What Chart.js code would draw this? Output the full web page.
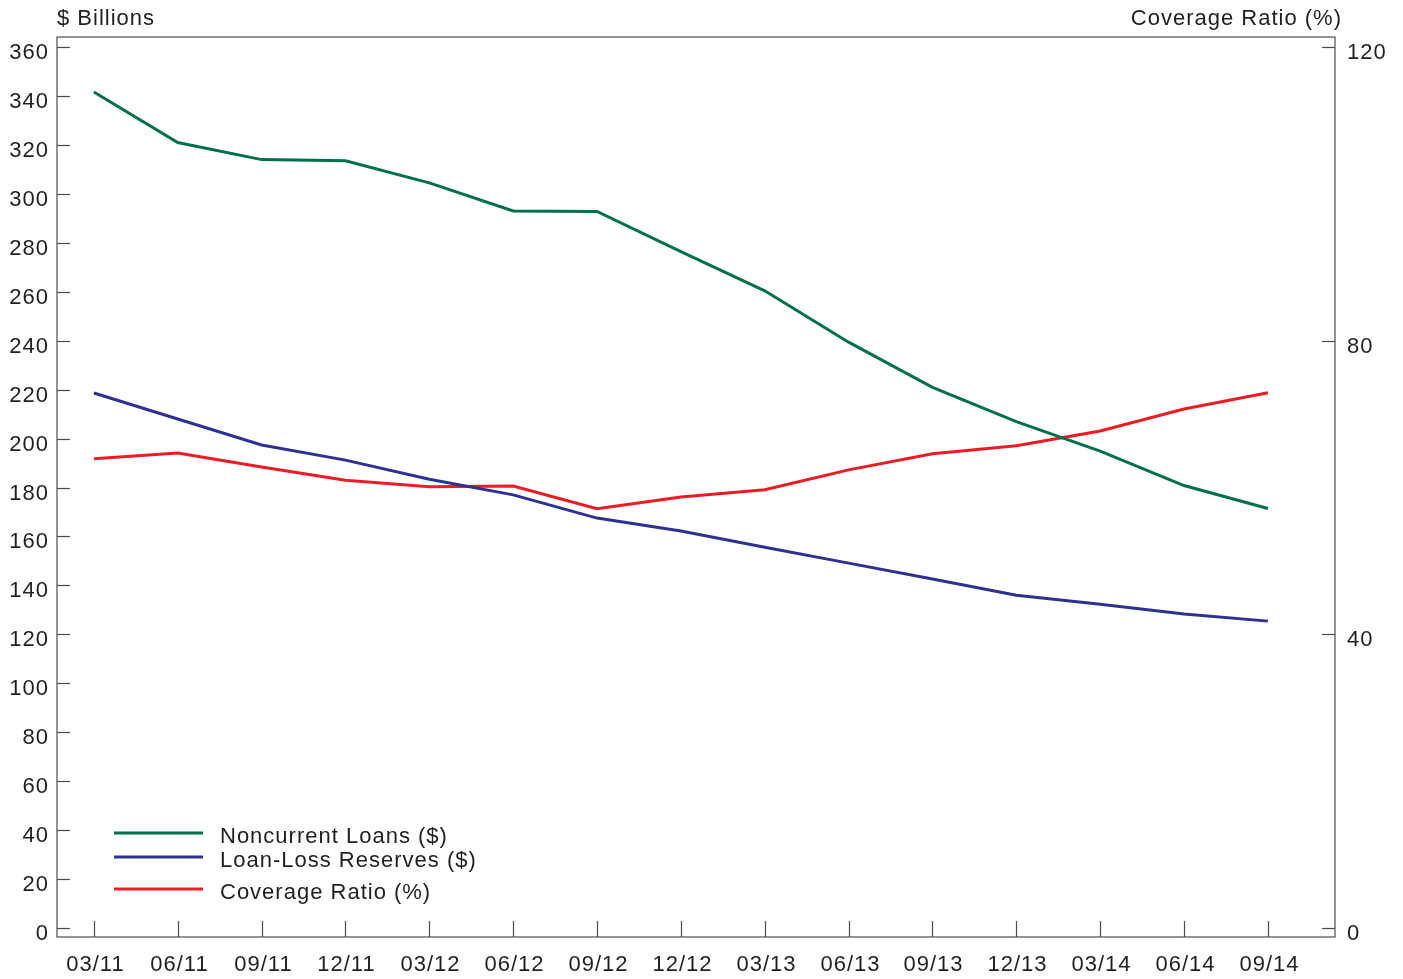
<!DOCTYPE html>
<html>
<head>
<meta charset="utf-8">
<script src="https://cdn.jsdelivr.net/npm/chart.js@4.4.1/dist/chart.umd.min.js"></script>
<style>
  body { margin: 0; background: #fff; }
  #wrap { width: 1403px; height: 979px; }
</style>
</head>
<body>
<div id="wrap"><canvas id="chart1" width="1403" height="979"></canvas></div>
<script>
"use strict";

var categories = ['03/11', '06/11', '09/11', '12/11', '03/12', '06/12', '09/12', '12/12',
                  '03/13', '06/13', '09/13', '12/13', '03/14', '06/14', '09/14'];
var noncurrentLoans = [341.6, 321, 314, 313.5, 304.5, 293, 292.8, 276.4, 260.4, 239.4, 220.9, 206.9, 194.9, 180.8, 171.4];
var lossReserves = [218.6, 208, 197.4, 191.2, 183.4, 177, 167.5, 162.2, 155.6, 149.1, 142.6, 136, 132.3, 128.3, 125.4];
var coverageRatio = [63.9, 64.7, 62.8, 61, 60.1, 60.2, 57.1, 58.7, 59.7, 62.4, 64.6, 65.7, 67.7, 70.7, 72.9];
var leftTicks = [0, 20, 40, 60, 80, 100, 120, 140, 160, 180, 200, 220, 240, 260, 280, 300, 320, 340, 360];
var rightTicks = [0, 40, 80, 120];

var FONT = '22px "Liberation Sans", Arial, Helvetica, sans-serif';
var INK = '#231f20';

function toPoints(arr) {
    return arr.map(function (v, i) { return { x: i, y: v }; });
}

var framePlugin = {
    id: 'frame',
    afterDraw: function (chart) {
        var ctx = chart.ctx;
        var a = chart.chartArea;
        var x = chart.scales.x, yl = chart.scales.y, yr = chart.scales.y2;
        ctx.save();
        ctx.strokeStyle = '#4d4d4f';
        ctx.lineWidth = 1.2;
        ctx.strokeRect(a.left, a.top, a.right - a.left, a.bottom - a.top);

        ctx.font = FONT;
        ctx.letterSpacing = '1px';
        ctx.fillStyle = INK;

        // left axis
        ctx.textAlign = 'right';
        ctx.textBaseline = 'middle';
        leftTicks.forEach(function (t) {
            var py = Math.round(yl.getPixelForValue(t)) + 0.5;
            ctx.beginPath();
            ctx.moveTo(a.left, py);
            ctx.lineTo(a.left + 13, py);
            ctx.stroke();
            ctx.fillText(String(t), a.left - 8, py + 5);
        });

        // right axis
        ctx.textAlign = 'left';
        rightTicks.forEach(function (t) {
            var py = Math.round(yr.getPixelForValue(t)) + 0.5;
            ctx.beginPath();
            ctx.moveTo(a.right - 13, py);
            ctx.lineTo(a.right, py);
            ctx.stroke();
            ctx.fillText(String(t), a.right + 12, py + 5);
        });

        // category axis
        ctx.textAlign = 'center';
        ctx.textBaseline = 'top';
        categories.forEach(function (c, i) {
            var px = Math.round(x.getPixelForValue(i)) + 0.5;
            ctx.beginPath();
            ctx.moveTo(px, a.bottom);
            ctx.lineTo(px, a.bottom - 16);
            ctx.stroke();
            ctx.fillText(c, px + 1, a.bottom + 17);
        });

        // axis titles
        ctx.textBaseline = 'alphabetic';
        ctx.textAlign = 'left';
        ctx.fillText('$ Billions', a.left, 25);
        ctx.textAlign = 'right';
        ctx.fillText('Coverage Ratio (%)', a.right + 7, 25);

        // legend
        var rows = [833, 857, 889];
        ctx.textAlign = 'left';
        ctx.textBaseline = 'middle';
        chart.data.datasets.forEach(function (ds, i) {
            ctx.strokeStyle = ds.borderColor;
            ctx.lineWidth = 3;
            ctx.beginPath();
            ctx.moveTo(114, rows[i]);
            ctx.lineTo(203, rows[i]);
            ctx.stroke();
            ctx.fillStyle = INK;
            ctx.fillText(ds.label, 220, rows[i] + 4);
        });
        ctx.restore();
    }
};

new Chart(document.getElementById('chart1'), {
    type: 'line',
    data: {
        datasets: [{
            label: 'Noncurrent Loans ($)',
            data: toPoints(noncurrentLoans),
            borderColor: '#00704a',
            yAxisID: 'y'
        }, {
            label: 'Loan-Loss Reserves ($)',
            data: toPoints(lossReserves),
            borderColor: '#2e3192',
            yAxisID: 'y'
        }, {
            label: 'Coverage Ratio (%)',
            data: toPoints(coverageRatio),
            borderColor: '#ed1c24',
            yAxisID: 'y2'
        }]
    },
    options: {
        responsive: false,
        animation: false,
        layout: { padding: { left: 57, right: 68, top: 37, bottom: 42 } },
        elements: {
            point: { radius: 0 },
            line: { borderWidth: 3, tension: 0 }
        },
        plugins: {
            legend: { display: false },
            tooltip: { enabled: false }
        },
        scales: {
            x: { type: 'linear', display: false, min: -0.44, max: 14.8 },
            y: { type: 'linear', display: false, min: -3.68, max: 364.1 },
            y2: { type: 'linear', display: false, position: 'right', min: -1.226, max: 121.36 }
        }
    },
    plugins: [framePlugin]
});
</script>
</body>
</html>
